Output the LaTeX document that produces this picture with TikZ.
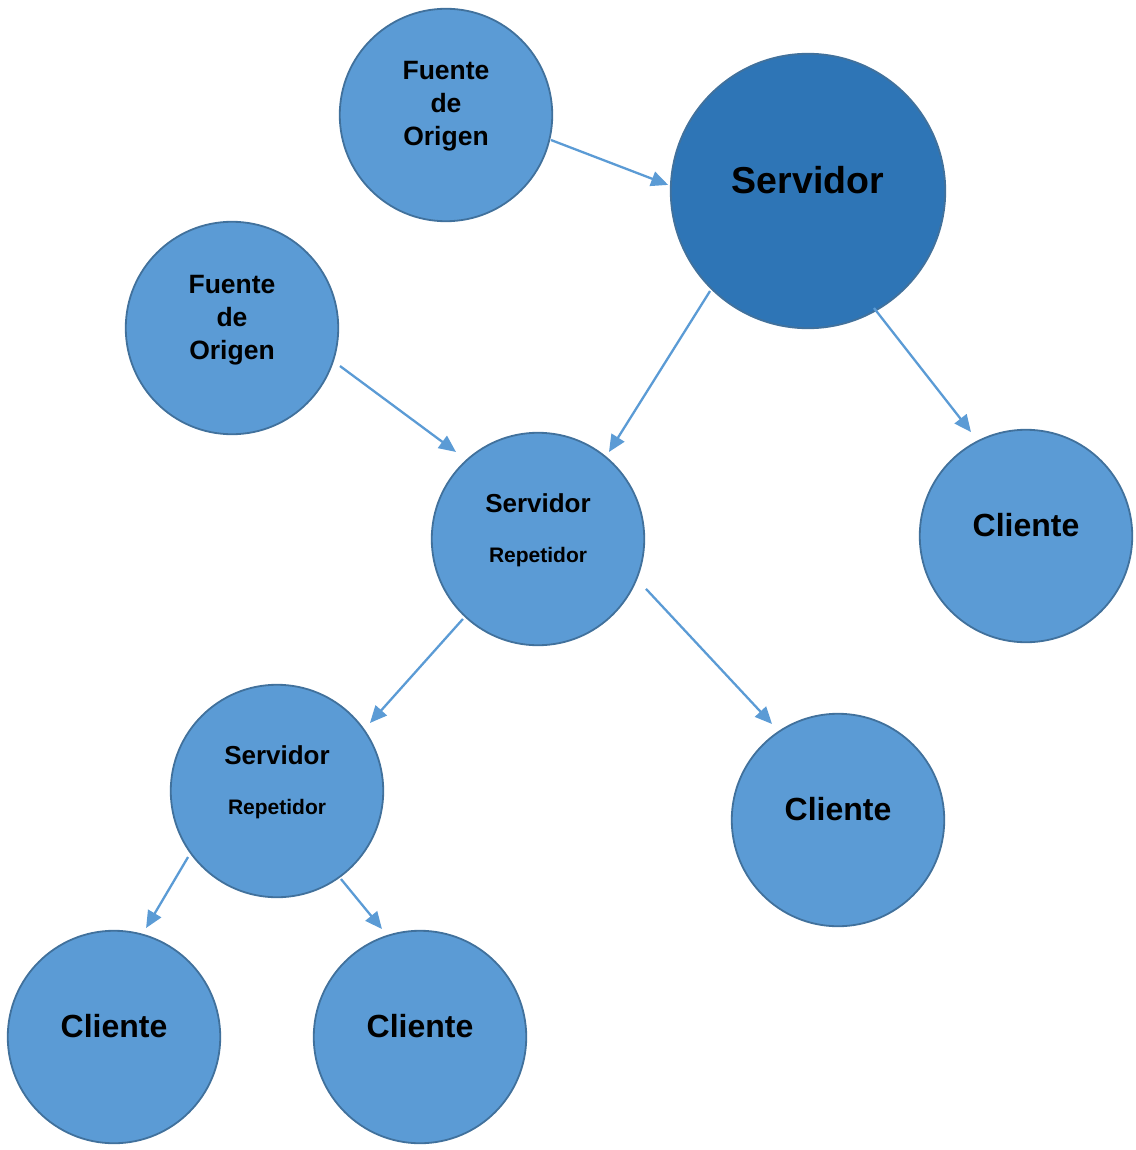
\documentclass[tikz,border=0pt]{standalone}
\usepackage{fontspec}
\setmainfont{Liberation Sans}
\usetikzlibrary{arrows.meta,calc}
\definecolor{cfill}{HTML}{5B9BD5}
\definecolor{cdark}{HTML}{2E75B6}
\definecolor{cedge}{HTML}{41719C}
\tikzset{
  bub/.style={circle,draw=cedge,line width=1.8pt,fill=cfill,minimum size=212.5pt,inner sep=0pt,outer sep=0pt},
  bigbub/.style={circle,draw=cedge,line width=1.8pt,fill=cdark,minimum size=274.5pt,inner sep=0pt,outer sep=0pt},
  txt/.style={anchor=base,inner sep=0pt,font=\bfseries},
  arr/.style={draw=cfill,line width=2.3pt,-{Triangle[length=17pt,width=15pt]}}
}
\begin{document}
\begin{tikzpicture}[x=1pt,y=-1pt]
\useasboundingbox (0,0) rectangle (1135,1150);
% circles
\node[bub] (fo1) at (446,115) {};
\node[bigbub] (srv) at (808,191) {};
\node[bub] (fo2) at (232,328) {};
\node[bub] (rep1) at (538,539) {};
\node[bub] (cl1) at (1026,536) {};
\node[bub] (rep2) at (277,791) {};
\node[bub] (cl2) at (838,820) {};
\node[bub] (cl3) at (114,1037) {};
\node[bub] (cl4) at (420,1037) {};
% texts
\node[txt,font=\bfseries\fontsize{26.5}{30}\selectfont] (fo1a) at (446,79.3) {Fuente};
\node[txt,font=\bfseries\fontsize{26.5}{30}\selectfont] (fo1b) at (446,112.3) {de};
\node[txt,font=\bfseries\fontsize{26.5}{30}\selectfont] (fo1c) at (446,145.3) {Origen};
\node[txt,font=\bfseries\fontsize{26.5}{30}\selectfont] (fo2a) at (232,293.3) {Fuente};
\node[txt,font=\bfseries\fontsize{26.5}{30}\selectfont] (fo2b) at (232,326.3) {de};
\node[txt,font=\bfseries\fontsize{26.5}{30}\selectfont] (fo2c) at (232,359.3) {Origen};
\node[txt,font=\bfseries\fontsize{37.5}{42}\selectfont] (srvt) at (808,193.3) {Servidor};
\node[txt,font=\bfseries\fontsize{26}{30}\selectfont] (rep1a) at (538,512.7) {Servidor};
\node[txt,font=\bfseries\fontsize{21}{24}\selectfont] (rep1b) at (538,562.7) {Repetidor};
\node[txt,font=\bfseries\fontsize{26}{30}\selectfont] (rep2a) at (277,764.7) {Servidor};
\node[txt,font=\bfseries\fontsize{21}{24}\selectfont] (rep2b) at (277,814.7) {Repetidor};
\node[txt,font=\bfseries\fontsize{32}{36}\selectfont] (cl1t) at (1026,536.7) {Cliente};
\node[txt,font=\bfseries\fontsize{32}{36}\selectfont] (cl2t) at (838,820) {Cliente};
\node[txt,font=\bfseries\fontsize{32}{36}\selectfont] (cl3t) at (114,1037.5) {Cliente};
\node[txt,font=\bfseries\fontsize{32}{36}\selectfont] (cl4t) at (420,1037.5) {Cliente};
% connector end points
\coordinate (a1s) at ($(fo1)+(-13.4:107.9pt)$);
\coordinate (a1e) at ($(srv)+(177.5:140pt)$);
\coordinate (a2s) at ($(fo2)+(-19.4:114.5pt)$);
\coordinate (a2e) at ($(rep1)+(133.3:119.6pt)$);
\coordinate (a3s) at ($(srv)+(225.6:140pt)$);
\coordinate (a3e) at ($(rep1)+(50.8:112.3pt)$);
\coordinate (a4s) at ($(srv)+(-60.6:134.3pt)$);
\coordinate (a4e) at ($(cl1)+(117.9:117.6pt)$);
\coordinate (a5s) at ($(rep1)+(226.8:109.7pt)$);
\coordinate (a5e) at ($(rep2)+(36.2:115.2pt)$);
\coordinate (a6s) at ($(rep1)+(-24.8:119pt)$);
\coordinate (a6e) at ($(cl2)+(124.5:116.5pt)$);
\coordinate (a7s) at ($(rep2)+(216.6:110.8pt)$);
\coordinate (a7e) at ($(cl3)+(73.6:113.6pt)$);
\coordinate (a8s) at ($(rep2)+(-54:108.8pt)$);
\coordinate (a8e) at ($(cl4)+(109.4:114.5pt)$);
% connectors
\draw[arr] (a1s) -- (a1e);
\draw[arr] (a2s) -- (a2e);
\draw[arr] (a3s) -- (a3e);
\draw[arr] (a4s) -- (a4e);
\draw[arr] (a5s) -- (a5e);
\draw[arr] (a6s) -- (a6e);
\draw[arr] (a7s) -- (a7e);
\draw[arr] (a8s) -- (a8e);
\end{tikzpicture}
\end{document}
